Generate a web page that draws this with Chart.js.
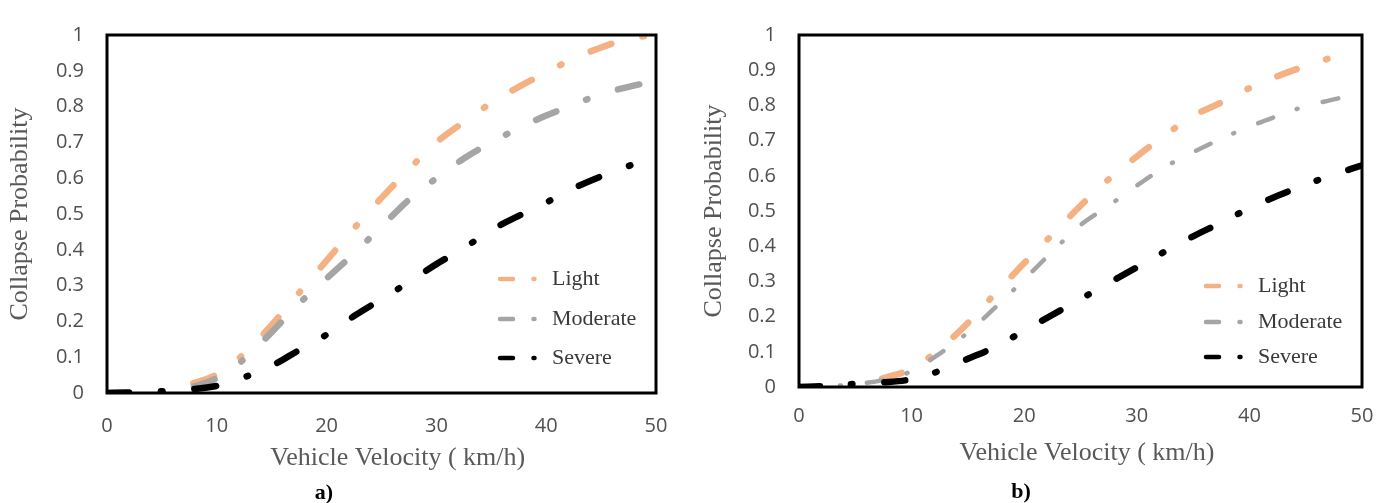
<!DOCTYPE html>
<html>
<head>
<meta charset="utf-8">
<script src="https://cdn.jsdelivr.net/npm/chart.js@4.4.1/dist/chart.umd.min.js"></script>
<style>
  body { margin: 0; background: #fff; width: 1387px; height: 503px; position: relative; overflow: hidden; }
  canvas { position: absolute; top: 0; }
  #chartA { left: 0; }
  #chartB { left: 693px; }
  .caption { position: absolute; font: bold 22px "Liberation Serif", serif; color: #000; transform: translate(-50%, -50%); }
</style>
</head>
<body>
<canvas id="chartA" width="693" height="503"></canvas>
<canvas id="chartB" width="694" height="503"></canvas>
<div class="caption" style="left:324px; top:492px">a)</div>
<div class="caption" style="left:1021px; top:491px">b)</div>
<script>
// vehicle velocity (km/h)
const velocity = [0, 2.5, 5, 7.5, 10, 12.5, 15, 17.5, 20, 22.5, 25, 27.5, 30, 32.5, 35, 37.5, 40, 42.5, 45, 47.5, 50];

// collapse probability, case a)
const lightA    = [0, 0, 0.004, 0.024, 0.052, 0.11, 0.19, 0.28, 0.37, 0.46, 0.545, 0.625, 0.70, 0.757, 0.81, 0.855, 0.895, 0.935, 0.965, 0.99, 1.0];
const moderateA = [0, 0, 0.003, 0.015, 0.042, 0.095, 0.17, 0.25, 0.32, 0.39, 0.465, 0.54, 0.60, 0.655, 0.70, 0.74, 0.775, 0.805, 0.835, 0.855, 0.872];
const severeA   = [0, 0.002, 0.005, 0.01, 0.02, 0.044, 0.076, 0.12, 0.163, 0.215, 0.262, 0.31, 0.36, 0.405, 0.455, 0.495, 0.532, 0.572, 0.605, 0.634, 0.662];

// collapse probability, case b)
const lightB    = [0, 0, 0.004, 0.025, 0.052, 0.108, 0.182, 0.268, 0.352, 0.433, 0.515, 0.59, 0.655, 0.715, 0.77, 0.808, 0.849, 0.883, 0.912, 0.938, null];
const moderateB = [0, 0.002, 0.008, 0.02, 0.045, 0.095, 0.155, 0.228, 0.305, 0.385, 0.46, 0.515, 0.572, 0.625, 0.667, 0.705, 0.74, 0.77, 0.798, 0.817, 0.837];
const severeB   = [0, 0.003, 0.009, 0.013, 0.022, 0.046, 0.08, 0.115, 0.16, 0.205, 0.25, 0.295, 0.34, 0.385, 0.428, 0.467, 0.508, 0.543, 0.575, 0.603, 0.63];

const damageLevels = ['Light', 'Moderate', 'Severe'];
const xTitle = 'Vehicle Velocity ( km/h)';
const yTitle = 'Collapse Probability';

const COLORS = { Light: '#F4B183', Moderate: '#A5A5A5', Severe: '#000000' };

function toPoints(values) {
  return velocity.map((v, i) => ({ x: v, y: values[i] })).filter(p => p.y !== null);
}

// black box around the plot area
const frame = {
  id: 'frame',
  afterDatasetsDraw(chart) {
    const { ctx, chartArea: a } = chart;
    ctx.save();
    ctx.lineWidth = 3;
    ctx.strokeStyle = '#000';
    ctx.strokeRect(a.left, a.top, a.right - a.left, a.bottom - a.top);
    ctx.restore();
  }
};

// legend with a dash-dot sample in front of each label
const dashLegend = {
  id: 'dashLegend',
  afterDraw(chart, args, opts) {
    const { ctx, chartArea } = chart;
    ctx.save();
    ctx.font = '22px "Liberation Serif"';
    ctx.textBaseline = 'middle';
    ctx.lineCap = 'round';
    chart.data.datasets.forEach((ds, i) => {
      const y = chartArea.bottom - opts.rows[i];
      const x = chartArea.right - 156;
      ctx.strokeStyle = ds.borderColor;
      ctx.lineWidth = 4.5;
      ctx.beginPath(); ctx.moveTo(x, y); ctx.lineTo(x + 13, y); ctx.stroke();
      ctx.beginPath(); ctx.moveTo(x + 33.5, y); ctx.lineTo(x + 34.5, y); ctx.stroke();
      ctx.fillStyle = '#3a3a3a';
      ctx.fillText(ds.label, chartArea.right - 104, y);
    });
    ctx.restore();
  }
};

function makeChart(canvasId, series, box) {
  const tickFont = { family: '"Open Sans"', size: 20 };
  const titleFont = { family: '"Liberation Serif"', size: 26 };
  return new Chart(document.getElementById(canvasId), {
    type: 'line',
    data: {
      datasets: damageLevels.map((name, i) => ({
        label: name,
        data: toPoints(series[i]),
        borderColor: COLORS[name],
        borderWidth: box.widths[i],
        borderDash: box.dashes[i],
        borderCapStyle: 'round',
        borderJoinStyle: 'round',
        cubicInterpolationMode: 'monotone',
        pointRadius: 0,
        fill: false,
        order: 2 - i
      }))
    },
    options: {
      responsive: false,
      animation: false,
      layout: { padding: { top: box.top, right: box.right, left: 0, bottom: 0 } },
      plugins: {
        legend: { display: false },
        tooltip: { enabled: false },
        dashLegend: { rows: box.legendRows }
      },
      scales: {
        x: {
          type: 'linear',
          min: 0,
          max: 50,
          ticks: { stepSize: 10, color: '#505050', font: tickFont, padding: box.xTickPad, maxRotation: 0 },
          grid: { display: false, drawTicks: false },
          border: { display: false },
          title: { display: true, text: box.titlePrefix + xTitle, color: '#595959', font: titleFont, padding: { top: 0, bottom: box.xTitlePad } },
          afterFit(s) {
            s.height = box.xHeight;
            s.paddingLeft = 0;
            s.paddingRight = 0;
          }
        },
        y: {
          type: 'linear',
          min: 0,
          max: 1,
          ticks: {
            stepSize: 0.1,
            color: '#505050',
            font: tickFont,
            padding: 23,
            callback: v => String(Math.round(v * 10) / 10)
          },
          grid: { display: false, drawTicks: false },
          border: { display: false },
          title: { display: true, text: yTitle, color: '#595959', font: titleFont, padding: { top: box.yTitlePad, bottom: 0 } },
          afterFit(s) { s.width = box.left; }
        }
      }
    },
    plugins: [frame, dashLegend]
  });
}

const dashA = [22, 32, 1.5, 32];
makeChart('chartA', [lightA, moderateA, severeA], {
  top: 19, right: 37, left: 107, xHeight: 110,
  xTickPad: 21, xTitlePad: 29, yTitlePad: 5, titlePrefix: '     ',
  legendRows: [114, 74, 35],
  widths: [6.5, 6.5, 6.5], dashes: [dashA, dashA, dashA]
});

makeChart('chartB', [lightB, moderateB, severeB], {
  top: 17, right: 25, left: 106, xHeight: 116,
  xTickPad: 17, xTitlePad: 34, yTitlePad: 6, titlePrefix: '  ',
  legendRows: [101, 65, 30],
  widths: [6.5, 4.5, 6.5],
  dashes: [[20.5, 31, 1.5, 31], [16, 25, 1, 26], [21, 31, 1.5, 32]]
});
</script>
</body>
</html>
